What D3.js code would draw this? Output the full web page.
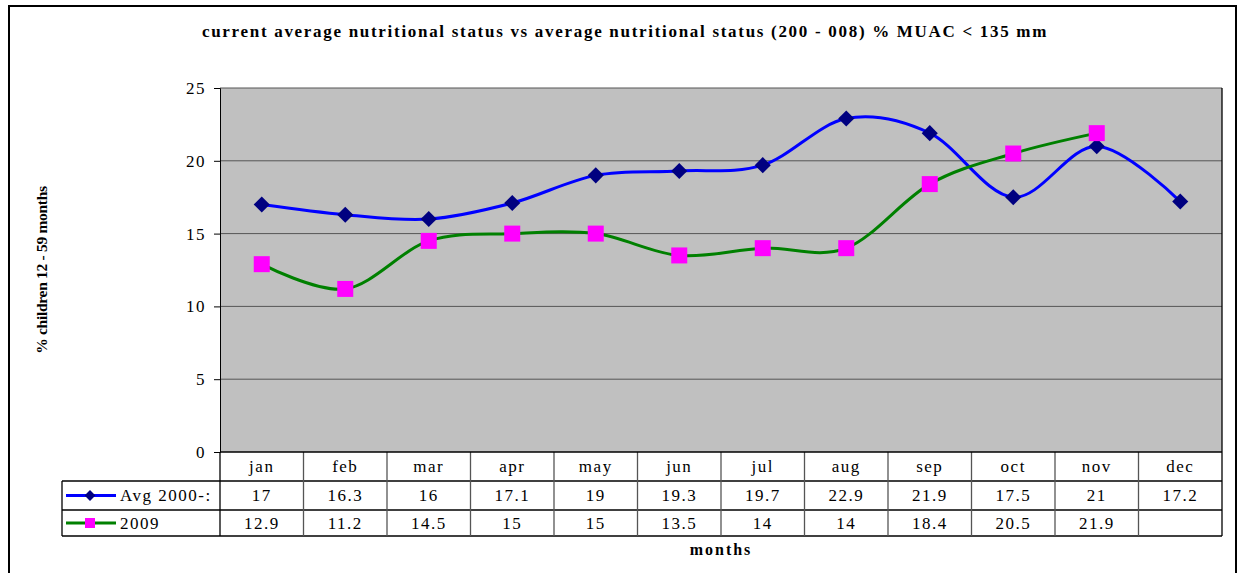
<!DOCTYPE html>
<html>
<head>
<meta charset="utf-8">
<script src="https://cdn.jsdelivr.net/npm/d3@7"></script>
<style>
  body { margin: 0; background: #fff; }
  svg text { font-family: "Liberation Serif", "Times New Roman", serif; }
</style>
</head>
<body>
<div id="chart"></div>
<script>
const months = ['jan', 'feb', 'mar', 'apr', 'may', 'jun', 'jul', 'aug', 'sep', 'oct', 'nov', 'dec']
const avgValues = [17, 16.3, 16, 17.1, 19, 19.3, 19.7, 22.9, 21.9, 17.5, 21, 17.2]
const y2009Values = [12.9, 11.2, 14.5, 15, 15, 13.5, 14, 14, 18.4, 20.5, 21.9, null]
const yTicks = [0, 5, 10, 15, 20, 25]

const series = [
  { name: 'Avg 2000-:', values: avgValues, line: '#0000ff', marker: '#000080', shape: 'diamond' },
  { name: '2009', values: y2009Values, line: '#008000', marker: '#ff00ff', shape: 'square' }
]

const W = 1241, H = 573
const plot = { left: 220, right: 1222, top: 88, bottom: 452 }
const tableRows = [452, 481, 510, 536]
const legendLeft = 62

const svg = d3.select('#chart').append('svg')
  .attr('width', W).attr('height', H)

// outer frame
svg.append('rect')
  .attr('x', 9).attr('y', 6)
  .attr('width', 1227).attr('height', 600)
  .attr('fill', 'none').attr('stroke', '#000').attr('stroke-width', 2)

svg.append('text')
  .attr('x', 625).attr('y', 37)
  .attr('text-anchor', 'middle')
  .attr('font-size', 17).attr('font-weight', 'bold')
  .attr('letter-spacing', 1.7)
  .text('current average nutritional status vs average nutritional status (200 - 008) % MUAC < 135 mm')

const x = d3.scaleBand().domain(months).range([plot.left, plot.right])
const y = d3.scaleLinear().domain([0, 25]).range([plot.bottom, plot.top])

svg.append('rect')
  .attr('x', plot.left).attr('y', plot.top)
  .attr('width', plot.right - plot.left).attr('height', plot.bottom - plot.top)
  .attr('fill', '#c0c0c0')

svg.append('g')
  .selectAll('line')
  .data(yTicks.filter(d => d > 0))
  .join('line')
  .attr('x1', plot.left).attr('x2', plot.right)
  .attr('y1', d => y(d)).attr('y2', d => y(d))
  .attr('stroke', '#555').attr('stroke-width', 1)

const yAxis = svg.append('g')
  .attr('transform', 'translate(' + plot.left + ',0)')
  .call(d3.axisLeft(y).tickValues(yTicks).tickSize(6).tickPadding(8))
yAxis.attr('font-size', 17)
yAxis.select('.domain').attr('stroke', '#000')
yAxis.selectAll('.tick line').attr('stroke', '#000')
yAxis.selectAll('text').attr('fill', '#000').attr('letter-spacing', 1.5)

svg.append('text')
  .attr('transform', 'translate(47,' + ((plot.top + plot.bottom) / 2) + ') rotate(-90)')
  .attr('text-anchor', 'middle')
  .attr('font-size', 15.5).attr('font-weight', 'bold')
  .attr('letter-spacing', -0.3)
  .text('% children 12 - 59 months')

// lines
const line = d3.line()
  .defined(d => d.v != null)
  .x(d => x(d.m) + x.bandwidth() / 2)
  .y(d => y(d.v))
  .curve(d3.curveCardinal)

series.forEach(s => {
  const pts = months.map((m, i) => ({ m: m, v: s.values[i] })).filter(d => d.v != null)
  svg.append('path')
    .datum(pts)
    .attr('d', line)
    .attr('fill', 'none')
    .attr('stroke', s.line)
    .attr('stroke-width', 3)
})

series.forEach(s => {
  const pts = months.map((m, i) => ({ m: m, v: s.values[i] })).filter(d => d.v != null)
  const sym = s.shape === 'diamond'
    ? d3.symbol().type(d3.symbolDiamond2).size(165)
    : d3.symbol().type(d3.symbolSquare).size(256)
  svg.append('g')
    .selectAll('path')
    .data(pts)
    .join('path')
    .attr('transform', d => 'translate(' + (x(d.m) + x.bandwidth() / 2) + ',' + y(d.v) + ')')
    .attr('d', sym)
    .attr('fill', s.marker)
})

// data table
const tbl = svg.append('g').attr('stroke', '#000').attr('stroke-width', 1.3)
tbl.append('line').attr('x1', legendLeft).attr('x2', plot.right)
  .attr('y1', tableRows[1]).attr('y2', tableRows[1])
tbl.append('line').attr('x1', legendLeft).attr('x2', plot.right)
  .attr('y1', tableRows[2]).attr('y2', tableRows[2])
tbl.append('line').attr('x1', legendLeft).attr('x2', plot.right)
  .attr('y1', tableRows[3]).attr('y2', tableRows[3])
tbl.append('line').attr('x1', legendLeft).attr('x2', legendLeft)
  .attr('y1', tableRows[1]).attr('y2', tableRows[3])
tbl.append('line').attr('x1', plot.right).attr('x2', plot.right)
  .attr('y1', plot.top).attr('y2', tableRows[3])
tbl.selectAll('.col')
  .data(months)
  .join('line')
  .attr('x1', d => x(d)).attr('x2', d => x(d))
  .attr('y1', tableRows[0]).attr('y2', tableRows[3])
  .attr('stroke', (d, i) => i === 0 ? '#000' : '#555')
tbl.append('line').attr('x1', plot.left).attr('x2', plot.right)
  .attr('y1', plot.bottom).attr('y2', plot.bottom)

svg.append('g')
  .selectAll('text')
  .data(months)
  .join('text')
  .attr('x', d => x(d) + x.bandwidth() / 2)
  .attr('y', (tableRows[0] + tableRows[1]) / 2 + 5)
  .attr('text-anchor', 'middle')
  .attr('font-size', 17)
  .attr('letter-spacing', 1.5)
  .text(d => d)

series.forEach((s, si) => {
  const rowMid = (tableRows[si + 1] + tableRows[si + 2]) / 2
  svg.append('g')
    .selectAll('text')
    .data(months.map((m, i) => ({ m: m, v: s.values[i] })).filter(d => d.v != null))
    .join('text')
    .attr('x', d => x(d.m) + x.bandwidth() / 2)
    .attr('y', rowMid + 5.5)
    .attr('text-anchor', 'middle')
    .attr('font-size', 17)
    .attr('letter-spacing', 1.5)
    .text(d => d.v)

  // legend key
  svg.append('line')
    .attr('x1', 66).attr('x2', 116)
    .attr('y1', rowMid).attr('y2', rowMid)
    .attr('stroke', s.line).attr('stroke-width', 3)
  const sym = s.shape === 'diamond'
    ? d3.symbol().type(d3.symbolDiamond2).size(75)
    : d3.symbol().type(d3.symbolSquare).size(100)
  svg.append('path')
    .attr('transform', 'translate(90,' + rowMid + ')')
    .attr('d', sym)
    .attr('fill', s.marker)
  svg.append('text')
    .attr('x', 120).attr('y', rowMid + 5.5)
    .attr('font-size', 17)
    .attr('letter-spacing', 1.5)
    .text(s.name)
})

svg.append('text')
  .attr('x', 721).attr('y', 555)
  .attr('text-anchor', 'middle')
  .attr('font-size', 16).attr('font-weight', 'bold')
  .attr('letter-spacing', 2)
  .text('months')
</script>
</body>
</html>
